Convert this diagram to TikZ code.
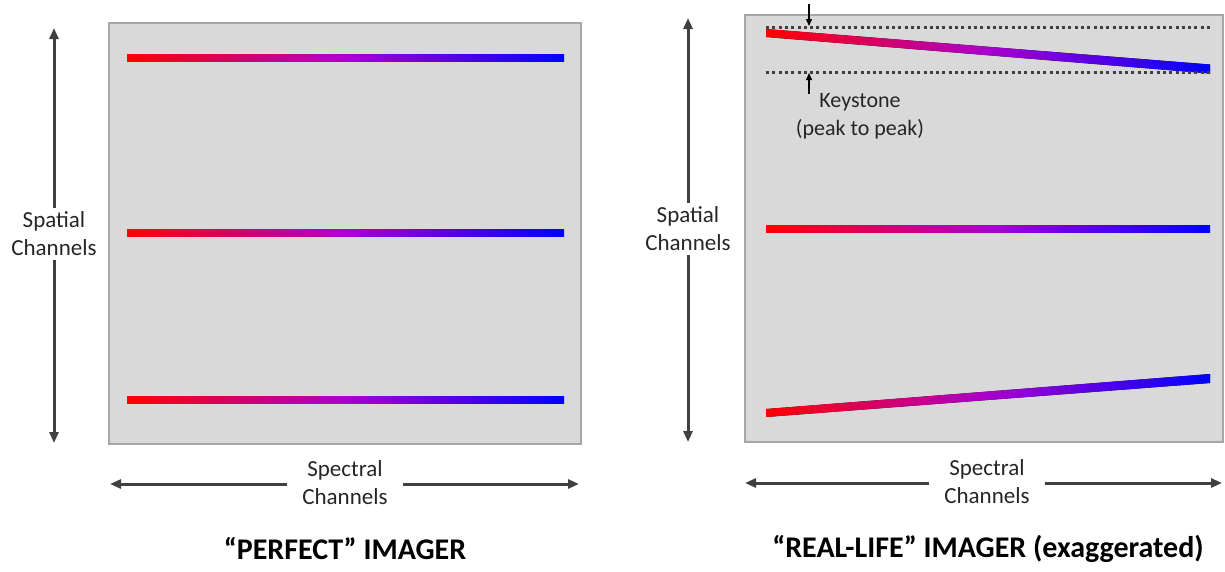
\documentclass[tikz,border=0pt]{standalone}
\usepackage{fontspec}
\setmainfont{Carlito}
\usetikzlibrary{arrows.meta}
\definecolor{boxfill}{RGB}{217,217,217}
\definecolor{boxedge}{RGB}{166,166,166}
\definecolor{axis}{RGB}{64,64,64}
\definecolor{midviolet}{RGB}{170,0,205}
\tikzset{
  panel/.style={fill=boxfill, draw=boxedge, line width=1.5pt},
  axisarrow/.style={draw=axis, line width=3pt, -{Triangle[length=11pt,width=9pt]}},
  axislabel/.style={font=\fontsize{23}{28}\selectfont, align=center, inner sep=4pt, text=black!85},
  title/.style={font=\bfseries\fontsize{30}{34}\selectfont, text=black},
  spectrum/.style={left color=red, right color=blue, middle color=midviolet},
  guide/.style={draw=axis, line width=3pt, dash pattern=on 3pt off 3.3pt},
  pointer/.style={draw=black, line width=1.4pt, -{Triangle[length=7pt,width=6pt]}},
  note/.style={font=\fontsize{22}{28}\selectfont, align=center, text=black!85}
}
\begin{document}
\begin{tikzpicture}[x=1pt,y=-1pt]
\useasboundingbox (0,0) rectangle (1225,571);

% ---------- perfect imager ----------
\node[panel, minimum width=472pt, minimum height=421pt, anchor=north west] (pbox) at (108,22) {};
\fill[spectrum] (127,54.5) rectangle (564,61.5);
\fill[spectrum] (127,229.5) rectangle (564,236.5);
\fill[spectrum] (127,396.5) rectangle (564,403.5);

\node[axislabel] (pspat) at (54,234) {Spatial\\Channels};
\coordinate (ptop) at (54,28);
\coordinate (pbot) at (54,443);
\draw[axisarrow] (pspat.north) -- (ptop);
\draw[axisarrow] (pspat.south) -- (pbot);

\node[axislabel, inner sep=15pt] (pspec) at (345,483) {Spectral\\Channels};
\coordinate (pleft) at (110,484);
\coordinate (pright) at (579,484);
\draw[axisarrow] (pspec.west |- pleft) -- (pleft);
\draw[axisarrow] (pspec.east |- pright) -- (pright);

\node[title] (ptitle) at (345,549) {“PERFECT” IMAGER};

% ---------- real-life imager ----------
\node[panel, minimum width=478pt, minimum height=427pt, anchor=north west] (rbox) at (744,14) {};
\fill[spectrum] (766,29) -- (1210,64.5) -- (1210,73.5) -- (766,37) -- cycle;
\fill[spectrum] (766,225.5) rectangle (1210,232.5);
\fill[spectrum] (766,409) -- (1210,374) -- (1210,383) -- (766,417) -- cycle;

\coordinate (gtl) at (766,27);
\coordinate (gtr) at (1212,27);
\coordinate (gbl) at (766,72);
\coordinate (gbr) at (1212,72);
\draw[guide] (gtl) -- (gtr);
\draw[guide] (gbl) -- (gbr);

\coordinate (kdown) at (809,4);
\coordinate (kdowntip) at (809,26);
\coordinate (kup) at (809,94);
\coordinate (kuptip) at (809,73);
\draw[pointer] (kdown) -- (kdowntip);
\draw[pointer] (kup) -- (kuptip);
\node[note] (keys) at (860,116) {Keystone\\(peak to peak)};

\node[axislabel] (rspat) at (688,229) {Spatial\\Channels};
\coordinate (rtop) at (688,18);
\coordinate (rbot) at (688,442);
\draw[axisarrow] (rspat.north) -- (rtop);
\draw[axisarrow] (rspat.south) -- (rbot);

\node[axislabel, inner sep=15pt] (rspec) at (987,482) {Spectral\\Channels};
\coordinate (rleft) at (745,483);
\coordinate (rright) at (1222,483);
\draw[axisarrow] (rspec.west |- rleft) -- (rleft);
\draw[axisarrow] (rspec.east |- rright) -- (rright);

\node[title] (rtitle) at (988,549) {“REAL-LIFE” IMAGER (exaggerated)};
\end{tikzpicture}
\end{document}
